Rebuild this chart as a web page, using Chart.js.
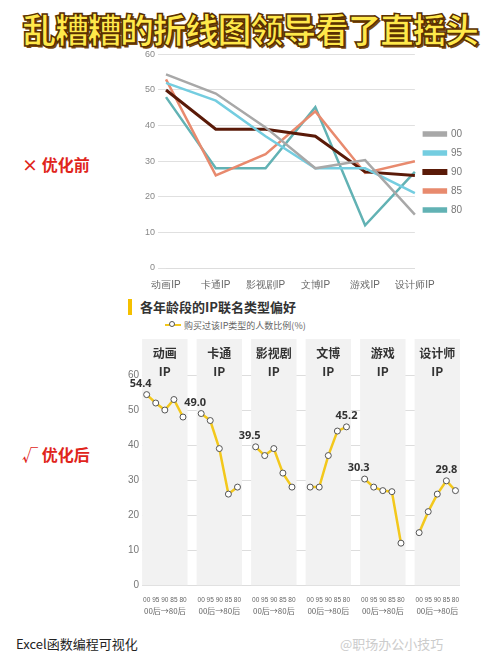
<!DOCTYPE html>
<html><head><meta charset="utf-8">
<script src="https://cdn.jsdelivr.net/npm/chart.js@4"></script>
<style>
body{margin:0;width:500px;height:668px;background:#fff;position:relative;overflow:hidden;font-family:"Noto Sans CJK SC",sans-serif;}
#title{position:absolute;left:0;top:4px;width:500px;text-align:center;font-size:34px;font-weight:900;color:#ffe94a;-webkit-text-stroke:1.5px #5a3000;text-shadow:2px 2px 0 #7a4a10;letter-spacing:-1.5px;white-space:nowrap}
.lab{position:absolute;left:22px;color:#e0251b;font-weight:bold;font-size:16px}
#head{position:absolute;left:128px;top:297px;font-size:13px;font-weight:bold;color:#333}
#head span{display:inline-block;width:4px;height:16px;background:#f5c000;vertical-align:-3px;margin-right:8px}
#leg{position:absolute;left:165px;top:319px;font-size:9px;color:#666}
#leg i{display:inline-block;width:16px;height:2px;background:#f3c81c;vertical-align:3px;position:relative;margin-right:3px}
#leg i b{position:absolute;left:4px;top:-3px;width:6px;height:6px;border:1px solid #555;border-radius:50%;background:#fff;box-sizing:border-box}
#foot{position:absolute;left:16px;top:634px;font-size:13px;color:#222;font-family:"Noto Sans CJK SC"}
#wm{position:absolute;left:340px;top:634px;font-size:13px;color:#ccc}
</style></head><body>
<div id="title">乱糟糟的折线图领导看了直摇头</div>
<div class="lab" style="top:152px">×&nbsp;优化前</div>
<div class="lab" style="top:442px">√&nbsp;优化后</div>
<div id="head"><span></span>各年龄段的IP联名类型偏好</div>
<div id="leg"><i><b></b></i>购买过该IP类型的人数比例(%)</div>
<div id="foot">Excel函数编程可视化</div>
<div id="wm">@职场办公小技巧</div>
<div style="position:absolute;left:130px;top:46px;width:370px;height:248px"><canvas id="c1"></canvas></div>
<div style="position:absolute;left:125px;top:315px;width:340px;height:310px"><canvas id="c2"></canvas></div>
<script>
const categories=['动画IP','卡通IP','影视剧IP','文博IP','游戏IP','设计师IP'];
const groupNames=[['动画','IP'],['卡通','IP'],['影视剧','IP'],['文博','IP'],['游戏','IP'],['设计师','IP']];
const ages=['00','95','90','85','80'];
const s00=[54.4,49.0,39.5,28,30.3,15];
const s95=[52,47,37,28,28,21];
const s90=[50,39,39,37,27,26];
const s85=[53,26,32,44,26.7,30];
const s80=[48,28,28,45.2,12,27];
const yTicks=[0,10,20,30,40,50,60];

const colors=['#a8a8a8','#74cde0','#5a1a08','#e88a6e','#62b2b4'];
const series=[s00,s95,s90,s85,s80];
new Chart(document.getElementById('c1'),{type:'line',
data:{labels:categories,datasets:series.map((d,i)=>({label:ages[i],data:d,borderColor:colors[i],backgroundColor:colors[i],borderWidth:i==2?3:2.5,pointRadius:0,tension:0}))},
options:{responsive:true,maintainAspectRatio:false,animation:false,
layout:{padding:{top:4,left:12,right:28}},
plugins:{legend:{position:'right',labels:{boxWidth:22,boxHeight:3,color:'#777',font:{size:10},padding:9}},tooltip:{enabled:false}},
scales:{y:{min:0,max:60,ticks:{stepSize:10,color:'#888',font:{size:9}},grid:{color:'#e0e0e0'},border:{display:false}},
x:{grid:{display:false},ticks:{color:'#666',font:{size:10}},border:{color:'#ddd'}}}}});

// bottom chart
const labels2=[],vals=[];
const groups=[[54.4,52,50,53,48],[49.0,47,39,26,28],[39.5,37,39,32,28],[28,28,37,44,45.2],[30.3,28,27,26.7,12],[15,21,26,29.8,27]];
groups.forEach((g,gi)=>{g.forEach((v,i)=>{labels2.push(ages[i]);vals.push(v);}); if(gi<5){labels2.push('');vals.push(null);}});
const deco={id:'deco',
beforeDatasetsDraw(c){const {ctx,chartArea:a,scales:{x}}=c;const w=x.getPixelForValue(1)-x.getPixelForValue(0);
ctx.save();ctx.fillStyle='#f2f2f2';
for(let g=0;g<6;g++){const x0=x.getPixelForValue(g*6)-w/2,x1=x.getPixelForValue(g*6+4)+w/2;ctx.fillRect(x0,a.top-36,x1-x0,a.bottom-a.top+36);
ctx.fillStyle='#333';ctx.font='bold 12px "Noto Sans CJK SC"';ctx.textAlign='center';ctx.textBaseline='middle';
ctx.fillText(groupNames[g][0],(x0+x1)/2,a.top-22);ctx.fillText(groupNames[g][1],(x0+x1)/2,a.top-4);
ctx.font='8px "Noto Sans CJK SC"';ctx.fillStyle='#666';ctx.fillText('00后→80后',(x0+x1)/2,a.bottom+26);
ctx.fillStyle='#f2f2f2';}
ctx.restore();},
afterDatasetsDraw(c){const {ctx,scales:{x,y}}=c;ctx.save();ctx.fillStyle='#333';ctx.font='bold 11px "Noto Sans"';ctx.textAlign='center';
groups.forEach((g,gi)=>{let m=0;g.forEach((v,i)=>{if(v>g[m])m=i;});const idx=gi*6+m;let px=x.getPixelForValue(idx);if(m==0)px-=6;ctx.fillText(g[m].toFixed(1),px,y.getPixelForValue(g[m])-8);});
ctx.restore();}};
new Chart(document.getElementById('c2'),{type:'line',
data:{labels:labels2,datasets:[{label:'购买过该IP类型的人数比例(%)',data:vals,borderColor:'#f3c81c',backgroundColor:'#fff',borderWidth:2.5,pointRadius:3,pointBorderColor:'#555',pointBorderWidth:1,pointBackgroundColor:'#fff',spanGaps:false,tension:0}]},
options:{responsive:true,maintainAspectRatio:false,animation:false,
layout:{padding:{top:60,bottom:18}},
plugins:{legend:{display:false},tooltip:{enabled:false}},
scales:{y:{min:0,max:60,ticks:{stepSize:10,color:'#777',font:{size:10}},grid:{color:'#ddd',borderDash:[3,3],drawTicks:false},border:{display:false}},
x:{offset:true,grid:{display:false},ticks:{autoSkip:false,maxRotation:0,color:'#666',font:{size:6.5},padding:3},border:{display:false}}}},
plugins:[deco]});
</script></body></html>
